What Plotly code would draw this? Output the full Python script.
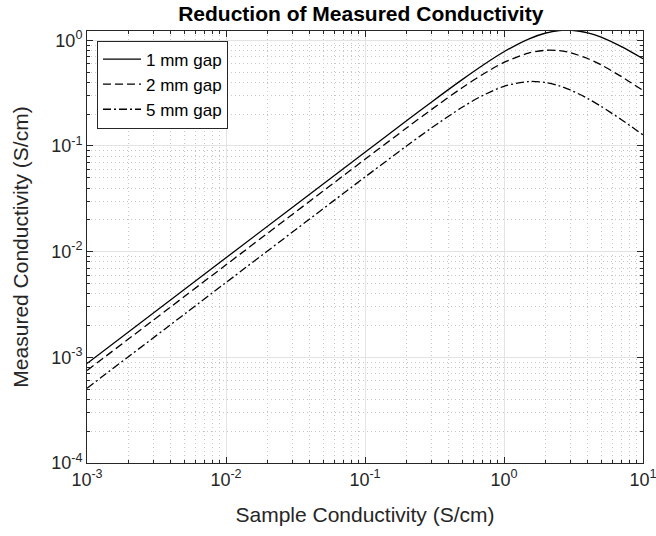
import plotly.graph_objects as go

# Sample conductivity (S/cm)
sample_cond = [0.001, 0.01, 0.1, 0.2, 0.3, 0.5, 0.7, 1.0, 1.5, 2.0, 2.5, 3.0, 4.0, 5.0, 7.0, 10.0]
# Measured conductivity (S/cm) for each gap
gap_1mm = [0.000875, 0.00875, 0.0874, 0.1741, 0.2596, 0.4244, 0.5777, 0.779, 1.028, 1.1725, 1.236, 1.245, 1.178, 1.073, 0.871, 0.67]
gap_2mm = [0.00075, 0.0075, 0.0748, 0.1487, 0.2207, 0.3558, 0.4747, 0.617, 0.7567, 0.8042, 0.7972, 0.7635, 0.6725, 0.5852, 0.4526, 0.335]
gap_5mm = [0.00051, 0.0051, 0.0508, 0.1004, 0.1478, 0.2323, 0.2997, 0.3667, 0.4072, 0.398, 0.3705, 0.3388, 0.2814, 0.2369, 0.1773, 0.1273]

series_names = ["1 mm gap", "2 mm gap", "5 mm gap"]
series_vals = [gap_1mm, gap_2mm, gap_5mm]
dashes = ["solid", "8px,4px", "8px,3px,2px,3px"]

x_tickvals = [1e-3, 1e-2, 1e-1, 1e0, 1e1]
x_ticktext = ["10<sup>-3</sup>", "10<sup>-2</sup>", "10<sup>-1</sup>", "10<sup>0</sup>", "10<sup>1</sup>"]
y_tickvals = [1e-4, 1e-3, 1e-2, 1e-1, 1e0]
y_ticktext = ["10<sup>-4</sup>", "10<sup>-3</sup>", "10<sup>-2</sup>", "10<sup>-1</sup>", "10<sup>0</sup>"]

FONT = "Liberation Sans, Arial, Helvetica, sans-serif"
TXT = "#262626"

fig = go.Figure()
for name, vals, d in zip(series_names, series_vals, dashes):
    fig.add_trace(go.Scatter(
        x=sample_cond, y=vals, mode="lines", name=name,
        line=dict(color="black", width=1.3, dash=d, shape="spline", smoothing=0.8),
    ))

axis_common = dict(
    type="log", automargin=False, ticklabeloverflow="allow",
    showline=True, linecolor=TXT, linewidth=1, mirror="ticks",
    ticks="inside", ticklen=6, tickcolor=TXT, tickwidth=1,
    showgrid=True, gridcolor="#e3e3e3", gridwidth=1,
    zeroline=False,
    tickfont=dict(family=FONT, size=18, color=TXT),
    minor=dict(dtick="D1", ticks="inside", ticklen=3, tickcolor=TXT,
               showgrid=True, gridcolor="#c8c8c8", griddash="1px,3px", gridwidth=1),
)

fig.update_xaxes(**axis_common, range=[-3, 1], tickvals=x_tickvals, ticktext=x_ticktext,
                 title=dict(text="Sample Conductivity (S/cm)", font=dict(family=FONT, size=21, color=TXT), standoff=18))
fig.update_yaxes(**axis_common, range=[-4, 0.088], tickvals=y_tickvals, ticktext=y_ticktext,
                 title=dict(text="Measured Conductivity (S/cm)", font=dict(family=FONT, size=21, color=TXT), standoff=16))

fig.update_layout(
    width=656, height=536,
    margin=dict(l=87, r=13, t=31, b=73),
    paper_bgcolor="white", plot_bgcolor="white",
    title=dict(text="<b>Reduction of Measured Conductivity</b>", x=0.55, xanchor="center",
               y=0.975, yanchor="middle",
               font=dict(family=FONT, size=21, color="black")),
    legend=dict(x=0.018, y=0.978, xanchor="left", yanchor="top",
                bgcolor="white", bordercolor=TXT, borderwidth=1,
                font=dict(family=FONT, size=17, color="black"),
                tracegroupgap=0, itemwidth=38),
    showlegend=True,
)

# remove the page's default 8px body margin so the figure sits at the window origin
fig.write_html("out.html", config={"displayModeBar": False},
               post_script="document.body.style.margin='0px';")
